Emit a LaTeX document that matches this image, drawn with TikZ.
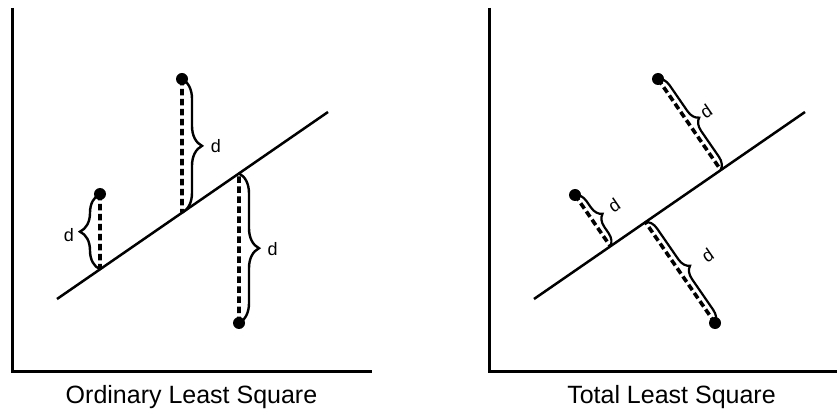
\documentclass[tikz,border=0pt]{standalone}
\usepackage{fontspec}
\setmainfont{Liberation Sans}
\usetikzlibrary{calc,decorations.pathreplacing}
\begin{document}
\begin{tikzpicture}[x=1pt,y=-1pt,
  axis/.style={line width=3pt},
  fitline/.style={line width=2.5pt},
  resid/.style={line width=3.6pt, dash pattern=on 6.5pt off 3.5pt},
  dot/.style={circle, fill=black, inner sep=0pt, minimum size=12pt},
  bigbrace/.style={decorate, decoration={brace, amplitude=20pt}, line width=2.4pt},
  smallbrace/.style={decorate, decoration={brace, amplitude=12pt}, line width=2.2pt},
  lab/.style={font=\fontsize{18}{18}\selectfont, inner sep=0pt},
  title/.style={font=\fontsize{25}{25}\selectfont, inner sep=0pt, anchor=base}]
\useasboundingbox (0,0) rectangle (837,411);

% ---------- left panel ----------
\coordinate (Ltop) at (12.7,8);
\coordinate (Lorig) at (12.7,371);
\coordinate (Lend) at (372,371);
\draw[axis] (Ltop) -- (Lorig) -- (Lend);

\coordinate (L0) at (57,299);
\coordinate (L1) at (328,112);
\draw[fitline] (L0) -- (L1);

\node[dot] (p1) at (100,194) {};
\node[dot] (p2) at (182,79) {};
\node[dot] (p3) at (239,323) {};
\coordinate (f1) at ($(L0)!0.15867!(L1)$);
\coordinate (f2) at ($(L0)!0.46125!(L1)$);
\coordinate (f3) at ($(L0)!0.67159!(L1)$);

\draw[resid] (p1.center) -- (f1);
\draw[resid] (p2.center) -- (f2);
\draw[resid] (p3.center) -- (f3);

\draw[bigbrace] (f1) -- (p1.center);
\draw[bigbrace] (p2.center) -- (f2);
\draw[bigbrace] (f3) -- (p3.center);

\node[lab] (d1) at (69,235) {d};
\node[lab] (d2) at (216,146) {d};
\node[lab] (d3) at (272.7,249.3) {d};

\node[title] (t1) at (191.5,403) {Ordinary Least Square};

% ---------- right panel ----------
\coordinate (Rtop) at (489.3,8);
\coordinate (Rorig) at (489.3,371);
\coordinate (Rend) at (837,371);
\draw[axis] (Rtop) -- (Rorig) -- (Rend);

\coordinate (R0) at (534,299);
\coordinate (R1) at (805,112);
\draw[fitline] (R0) -- (R1);

\node[dot] (a) at (575,195) {};
\node[dot] (b) at (658,79) {};
\node[dot] (c) at (715,323) {};
\coordinate (fa) at ($(R0)!(a.center)!(R1)$);
\coordinate (fb) at ($(R0)!(b.center)!(R1)$);
\coordinate (fc) at ($(R0)!(c.center)!(R1)$);

\draw[resid] (a.center) -- (fa);
\draw[resid] (b.center) -- (fb);
\draw[resid] (c.center) -- (fc);

\draw[smallbrace] (a.center) -- (fa);
\draw[smallbrace] (b.center) -- (fb);
\draw[smallbrace] (fc) -- (c.center);

\node[lab, rotate=34.6] (da) at (614,205) {d};
\node[lab, rotate=34.6] (db) at (706,111) {d};
\node[lab, rotate=34.6] (dc) at (707.5,255) {d};

\node[title] (t2) at (671.5,403) {Total Least Square};
\end{tikzpicture}
\end{document}
